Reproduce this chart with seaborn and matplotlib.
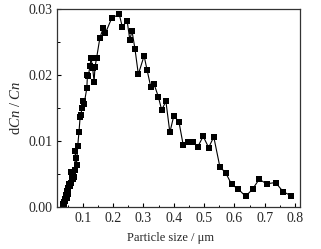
import numpy as np
import pandas as pd
import matplotlib
matplotlib.use('Agg')
import matplotlib.pyplot as plt
import seaborn as sns
from matplotlib.ticker import MultipleLocator

# particle size (um) and dCn/Cn
size_um = [0.033, 0.036, 0.038, 0.040, 0.042, 0.044, 0.046, 0.048, 0.050, 0.052,
           0.055, 0.057, 0.060, 0.062, 0.064, 0.066, 0.069, 0.071, 0.073, 0.075,
           0.077, 0.079, 0.083, 0.087, 0.091, 0.093, 0.097, 0.101, 0.104, 0.113,
           0.115, 0.118, 0.123, 0.127, 0.132, 0.137, 0.140, 0.145, 0.156, 0.167,
           0.174, 0.195, 0.220, 0.230, 0.246, 0.255, 0.262, 0.272, 0.283, 0.302,
           0.312, 0.324, 0.335, 0.349, 0.360, 0.374, 0.387, 0.400, 0.417, 0.431,
           0.448, 0.462, 0.479, 0.497, 0.515, 0.532, 0.552, 0.572, 0.591, 0.613,
           0.637, 0.660, 0.682, 0.706, 0.736, 0.761, 0.787]
dcn = [0.0004, 0.0008, 0.0005, 0.0012, 0.0009, 0.0018, 0.0014, 0.0024, 0.0020, 0.0029,
       0.0034, 0.0031, 0.0053, 0.0037, 0.0044, 0.0047, 0.0042, 0.0046, 0.0056, 0.0084,
       0.0074, 0.0064, 0.0093, 0.0113, 0.0137, 0.0139, 0.0150, 0.0160, 0.0156, 0.0180,
       0.0200, 0.0198, 0.0213, 0.0225, 0.0211, 0.0190, 0.0212, 0.0225, 0.0256, 0.0271,
       0.0263, 0.0286, 0.0292, 0.0273, 0.0282, 0.0253, 0.0267, 0.0239, 0.0201, 0.0229,
       0.0207, 0.0182, 0.0186, 0.0167, 0.0147, 0.0160, 0.0113, 0.0138, 0.0129, 0.0094,
       0.0099, 0.0098, 0.0091, 0.0107, 0.0090, 0.0106, 0.0061, 0.0051, 0.0034, 0.0027,
       0.0016, 0.0027, 0.0042, 0.0035, 0.0037, 0.0023, 0.0017]

df = pd.DataFrame({'size': size_um, 'dcn': dcn})

sns.set_style('ticks')
plt.rcParams['font.family'] = ['Liberation Serif', 'DejaVu Serif']
plt.rcParams['mathtext.fontset'] = 'custom'
plt.rcParams['mathtext.rm'] = 'Liberation Serif'
plt.rcParams['mathtext.it'] = 'Liberation Serif:italic'

fig = plt.figure(figsize=(3.21, 2.49), dpi=100)
ax = fig.add_axes([0.178, 0.169, 0.757, 0.795])

sns.lineplot(data=df, x='size', y='dcn', ax=ax, sort=False, color='black',
             linewidth=0.8, marker='s', markersize=3.8, markeredgewidth=0,
             markerfacecolor='black')

ax.set_xlim(0.015, 0.817)
ax.set_ylim(0, 0.03)
ax.xaxis.set_minor_locator(MultipleLocator(0.05))
ax.yaxis.set_minor_locator(MultipleLocator(0.005))
ax.set_xticks(np.arange(0.1, 0.81, 0.1))
ax.set_xticklabels(['0.1', '0.2', '0.3', '0.4', '0.5', '0.6', '0.7', '0.8'])
ax.set_yticks([0, 0.01, 0.02, 0.03])
ax.set_yticklabels(['0.00', '0.01', '0.02', '0.03'])

ax.tick_params(which='both', direction='in', top=False, right=False,
               labelsize=10, color='black')
ax.tick_params(which='major', length=3, width=0.8, pad=3.5)
ax.tick_params(which='minor', length=1.8, width=0.7)

for side in ['left', 'bottom', 'top', 'right']:
    ax.spines[side].set_linewidth(0.9)
    ax.spines[side].set_color('#333333')

ax.set_xlabel('Particle size / μm', fontsize=9, labelpad=5.5)
ax.xaxis.label.set_x(0.465)
ax.set_ylabel(r'd$Cn$ / $Cn$', fontsize=10.5, labelpad=4)

fig.savefig('out.png', dpi=100)
